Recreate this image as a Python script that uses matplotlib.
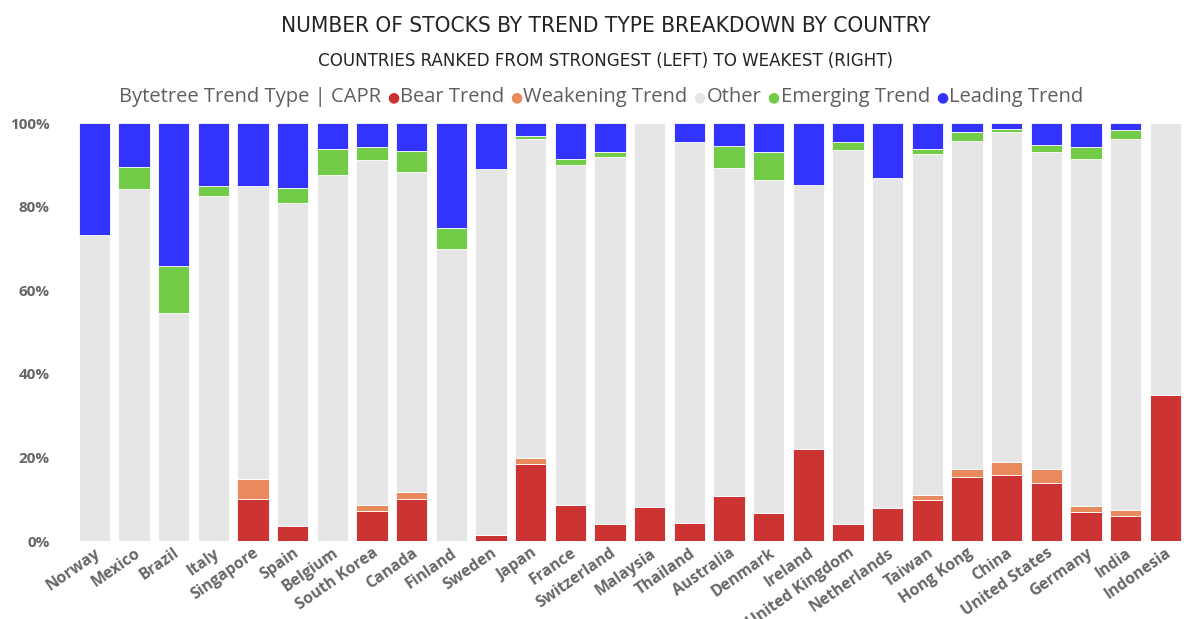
import matplotlib
matplotlib.use("Agg")
import matplotlib.pyplot as plt
import matplotlib.transforms as mtransforms
import numpy as np

countries = ["Norway", "Mexico", "Brazil", "Italy", "Singapore", "Spain", "Belgium",
             "South Korea", "Canada", "Finland", "Sweden", "Japan", "France", "Switzerland",
             "Malaysia", "Thailand", "Australia", "Denmark", "Ireland", "United Kingdom",
             "Netherlands", "Taiwan", "Hong Kong", "China", "United States", "Germany",
             "India", "Indonesia"]

bear = [0, 0, 0, 0, 10.0, 3.7, 0, 7.2, 10.0, 0, 1.5, 18.5, 8.5, 4.0,
        8.2, 4.4, 10.7, 6.8, 22.1, 4.0, 7.8, 9.7, 15.2, 15.7, 14.0, 6.9, 5.9, 34.9]
weakening = [0, 0, 0, 0, 4.9, 0, 0, 1.4, 1.7, 0, 0, 1.3, 0, 0,
             0, 0, 0, 0, 0, 0, 0, 1.2, 2.1, 3.1, 3.3, 1.5, 1.6, 0]
other = [73.3, 84.2, 54.6, 82.5, 70.0, 77.1, 87.5, 82.7, 76.5, 70.0, 87.6, 76.4, 81.5, 87.8,
         91.8, 91.0, 78.5, 79.5, 63.0, 89.5, 79.0, 81.8, 78.4, 79.0, 75.9, 83.1, 88.7, 65.1]
emerging = [0, 5.3, 11.3, 2.5, 0, 3.8, 6.3, 2.9, 5.1, 5.0, 0, 0.8, 1.5, 1.4,
            0, 0, 5.4, 6.8, 0, 1.9, 0, 1.2, 2.1, 0.7, 1.5, 2.9, 2.2, 0]
leading = [26.7, 10.5, 34.1, 15.0, 15.1, 15.4, 6.2, 5.8, 6.7, 25.0, 10.9, 3.0, 8.5, 6.8,
           0, 4.6, 5.4, 6.9, 14.9, 4.6, 13.2, 6.1, 2.2, 1.5, 5.3, 5.6, 1.6, 0]

series_names = ["Bear Trend", "Weakening Trend", "Other", "Emerging Trend", "Leading Trend"]
series_values = [bear, weakening, other, emerging, leading]
series_colors = ["#CC3333", "#E8895E", "#E6E6E6", "#72CC47", "#3333FF"]

ytick_vals = [0, 20, 40, 60, 80, 100]
ytick_labels = ["0%", "20%", "40%", "60%", "80%", "100%"]

plt.rcParams['font.family'] = ["Open Sans", "DejaVu Sans"]

fig = plt.figure(figsize=(12, 6.19), dpi=100)
ax = fig.add_axes([0.062, 0.126, 0.9255, 0.675])

x = np.arange(len(countries))
bottom = np.zeros(len(countries))
for name, vals, col in zip(series_names, series_values, series_colors):
    v = np.array(vals, dtype=float)
    ax.bar(x, v, bottom=bottom, width=0.79, color=col, edgecolor="white", linewidth=0.6, label=name)
    bottom += v

ax.set_xlim(-0.5, len(countries) - 0.5)
ax.set_ylim(0, 100)
ax.set_yticks(ytick_vals)
ax.set_yticklabels(ytick_labels, fontsize=11, fontweight="bold", color="#666666")
ax.set_xticks(x)
ax.set_xticklabels(countries, rotation=35, ha="right", rotation_mode="anchor",
                   fontsize=11.3, fontweight="bold", color="#666666")
shift = mtransforms.ScaledTranslation(-7 / 100, 0, fig.dpi_scale_trans)
for lab in ax.get_xticklabels():
    lab.set_transform(lab.get_transform() + shift)
ax.tick_params(axis="x", length=0, pad=3)
ax.tick_params(axis="y", length=0, pad=18)
for s in ax.spines.values():
    s.set_visible(False)

fig.text(0.505, 0.958, "NUMBER OF STOCKS BY TREND TYPE BREAKDOWN BY COUNTRY",
         ha="center", va="center", fontsize=16.2, color="#252423",
         family="DejaVu Sans", fontstretch="condensed")
fig.text(0.505, 0.902, "COUNTRIES RANKED FROM STRONGEST (LEFT) TO WEAKEST (RIGHT)",
         ha="center", va="center", fontsize=13.3, color="#252423",
         family="DejaVu Sans", fontstretch="condensed")

# legend line
fig.canvas.draw()
renderer = fig.canvas.get_renderer()
ly = 1 - 97 / 619
fs = 14.5
t0 = fig.text(0, ly, "Bytetree Trend Type | CAPR", ha="left", va="center", fontsize=fs, color="#605E5C")
items = []
for name, col in zip(series_names, series_colors):
    d = fig.text(0, ly, "\u25CF", ha="left", va="center", fontsize=10, color=col, family="DejaVu Sans")
    t = fig.text(0, ly, name, ha="left", va="center", fontsize=fs, color="#605E5C")
    items.append((d, t))
W = fig.get_figwidth() * fig.dpi
gap_after = 6
gap_dot = 1
w0 = t0.get_window_extent(renderer).width
total = w0
for d, t in items:
    total += gap_after + d.get_window_extent(renderer).width + gap_dot + t.get_window_extent(renderer).width
pos = 601 - total / 2
t0.set_x(pos / W)
pos += w0
for d, t in items:
    pos += gap_after
    d.set_x(pos / W)
    pos += d.get_window_extent(renderer).width + gap_dot
    t.set_x(pos / W)
    pos += t.get_window_extent(renderer).width

fig.savefig("out.png", dpi=100, facecolor="white")
